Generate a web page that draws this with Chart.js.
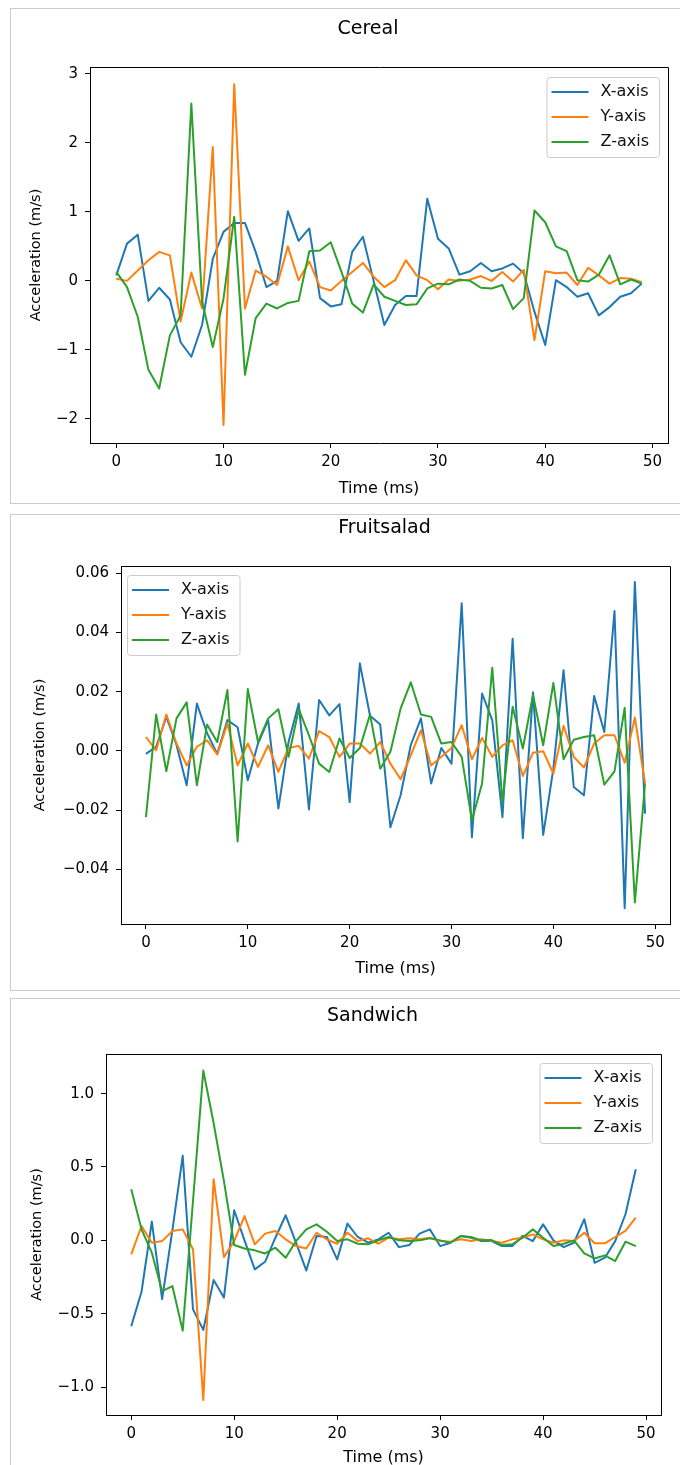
<!DOCTYPE html>
<html><head><meta charset="utf-8">
<script src="https://cdn.jsdelivr.net/npm/chart.js@4.4.0/dist/chart.umd.min.js"></script>
<style>
html,body{margin:0;padding:0;background:#fff;width:680px;height:1465px;overflow:hidden;position:relative}
.panel{position:absolute;left:10px;width:700px;border:1.5px solid #cbcbcb;box-sizing:border-box;background:#fff}
canvas{position:absolute;left:0}
</style></head><body>
<div class="panel" style="top:8px;height:496px"></div>
<div class="panel" style="top:514px;height:477px"></div>
<div class="panel" style="top:998px;height:520px"></div>
<canvas id="c1" width="680" height="492" style="top:10px;width:680px;height:492px"></canvas>
<canvas id="c2" width="680" height="473" style="top:516px;width:680px;height:473px"></canvas>
<canvas id="c3" width="680" height="480" style="top:999px;width:680px;height:480px"></canvas>
<script>
const time = [0,1,2,3,4,5,6,7,8,9,10,11,12,13,14,15,16,17,18,19,20,21,22,23,24,25,26,27,28,29,30,31,32,33,34,35,36,37,38,39,40,41,42,43,44,45,46,47,48,49];

const cerealX = [0.08,0.54,0.67,-0.29,-0.10,-0.27,-0.89,-1.10,-0.64,0.32, 0.71,0.84,0.84,0.42,-0.09,0.00,1.01,0.58,0.76,-0.25, -0.37,-0.34,0.42,0.64,0.00,-0.64,-0.35,-0.22,-0.22,1.19, 0.61,0.47,0.09,0.14,0.26,0.14,0.18,0.25,0.11,-0.45, -0.93,0.01,-0.09,-0.23,-0.18,-0.50,-0.38,-0.23,-0.18,-0.04];
const cerealY = [0.03,0.00,0.15,0.30,0.42,0.37,-0.59,0.12,-0.40,1.94, -2.09,2.85,-0.40,0.15,0.06,-0.06,0.50,0.01,0.28,-0.09, -0.14,0.00,0.13,0.26,0.06,-0.09,0.01,0.30,0.08,0.01, -0.12,0.02,0.00,0.02,0.07,0.00,0.13,-0.01,0.16,-0.86, 0.14,0.11,0.12,-0.06,0.19,0.08,-0.04,0.04,0.03,-0.02];
const cerealZ = [0.13,-0.09,-0.52,-1.29,-1.56,-0.79,-0.50,2.57,-0.30,-0.96, -0.26,0.93,-1.36,-0.54,-0.33,-0.40,-0.32,-0.29,0.43,0.44, 0.56,0.13,-0.33,-0.46,-0.05,-0.23,-0.29,-0.35,-0.34,-0.11, -0.04,-0.05,0.02,0.00,-0.10,-0.11,-0.06,-0.41,-0.25,1.02, 0.85,0.50,0.43,0.01,-0.01,0.09,0.37,-0.05,0.02,-0.04];

const fruitX = [-0.001,0.0014,0.0115,0.002,-0.0116,0.016,0.006,-0.001,0.0104,0.008, -0.0099,0.0025,0.0104,-0.0195,0.003,0.016,-0.0198,0.0172,0.012,0.0158, -0.0173,0.0296,0.0119,0.0089,-0.0258,-0.015,0.002,0.011,-0.011,0.001, -0.0043,0.0499,-0.0292,0.0194,0.0104,-0.0224,0.0379,-0.0295,0.0198,-0.0284, -0.006,0.0273,-0.0122,-0.015,0.0186,0.0064,0.0473,-0.0532,0.0571,-0.0212];
const fruitY = [0.0047,0.0002,0.0123,0.0025,-0.0049,0.0014,0.0036,-0.0012,0.0093,-0.0049, 0.0025,-0.0054,0.0019,-0.0071,0.001,0.0017,-0.0026,0.0067,0.0047,-0.002, 0.0025,0.0025,-0.0009,0.003,-0.0043,-0.0096,-0.0015,0.007,-0.0049,-0.002, 0.001,0.0087,-0.0028,0.0044,-0.002,0.0019,0.0036,-0.0085,-0.0006,-0.0001, -0.0077,0.0085,-0.002,-0.0056,0.0025,0.0053,0.0053,-0.004,0.0113,-0.011];
const fruitZ = [-0.0224,0.0123,-0.0069,0.011,0.0164,-0.0116,0.0089,0.003,0.0206,-0.0306, 0.0209,0.003,0.011,0.0141,-0.002,0.0141,0.0053,-0.0043,-0.0071,0.0042, -0.0024,0.001,0.0123,-0.006,-0.0003,0.0143,0.0232,0.0123,0.0115,0.0025, 0.003,-0.002,-0.0235,-0.011,0.0281,-0.0173,0.0149,0.0008,0.0189,0.0019, 0.023,-0.0028,0.0038,0.0047,0.0053,-0.0114,-0.0069,0.0146,-0.0512,-0.011];

const sandX = [-0.585,-0.35,0.128,-0.40,0.07,0.576,-0.47,-0.61,-0.27,-0.39, 0.205,0.0,-0.198,-0.146,0.018,0.171,-0.016,-0.205,0.03,0.023, -0.13,0.114,0.023,-0.016,0.007,0.052,-0.046,-0.032,0.046,0.075, -0.039,-0.016,0.03,0.018,-0.005,-0.005,-0.039,-0.039,0.03,-0.005, 0.109,0.0,-0.046,-0.016,0.144,-0.153,-0.118,-0.005,0.178,0.485];
const sandY = [-0.096,0.098,-0.016,-0.005,0.064,0.075,-0.06,-1.087,0.417,-0.114, -0.005,0.166,-0.027,0.046,0.064,0.007,-0.039,-0.055,0.052,0.007, -0.023,0.052,-0.005,0.014,-0.023,0.018,0.007,0.014,0.007,0.018, -0.005,-0.009,0.007,-0.005,0.007,-0.005,-0.016,0.007,0.018,0.041, 0.007,-0.016,0.0,-0.005,0.052,-0.02,-0.02,0.023,0.064,0.155];
const sandZ = [0.349,0.075,-0.084,-0.346,-0.312,-0.615,0.27,1.157,0.80,0.405, -0.032,-0.055,-0.068,-0.089,-0.05,-0.118,-0.005,0.075,0.109,0.059, -0.005,0.007,-0.023,-0.027,0.0,0.023,0.0,-0.005,0.0,0.014, 0.0,-0.016,0.03,0.023,0.0,0.002,-0.032,-0.027,0.018,0.075, 0.018,-0.039,-0.023,0.0,-0.089,-0.123,-0.102,-0.141,-0.009,-0.039];

const xTicks = [0,10,20,30,40,50];
const xTickLabels = ['0','10','20','30','40','50'];
const cerealYTicks = [-2,-1,0,1,2,3];
const cerealYTickLabels = ['\u22122','\u22121','0','1','2','3'];
const fruitYTicks = [-0.04,-0.02,0,0.02,0.04,0.06];
const fruitYTickLabels = ['\u22120.04','\u22120.02','0.00','0.02','0.04','0.06'];
const sandYTicks = [-1.0,-0.5,0,0.5,1.0];
const sandYTickLabels = ['\u22121.0','\u22120.5','0.0','0.5','1.0'];

const seriesLabels = ['X-axis','Y-axis','Z-axis'];
const seriesColors = ['#1f77b4','#ff7f0e','#2ca02c'];

const FONT = '"DejaVu Sans", sans-serif';
Chart.defaults.font.family = FONT;
Chart.defaults.color = '#000';

function alignPx(p){ return Math.round(p - 0.5) + 0.5; }

const decor = {
  id: 'decor',
  afterDatasetsDraw(chart, args, o) {
    const ctx = chart.ctx, a = chart.chartArea;
    ctx.save();
    // top & right spines
    ctx.strokeStyle = '#000'; ctx.lineWidth = 1;
    const L = alignPx(a.left), T = alignPx(a.top), R = alignPx(a.right), B = alignPx(a.bottom);
    ctx.beginPath();
    ctx.moveTo(L, T); ctx.lineTo(R, T); ctx.lineTo(R, B);
    ctx.stroke();
    // title
    ctx.fillStyle = '#000';
    ctx.font = '19px ' + FONT;
    ctx.textAlign = 'center'; ctx.textBaseline = 'middle';
    ctx.fillText(o.title, (a.left + a.right) / 2 - 11, a.top - 38);
    // legend
    ctx.font = '16px ' + FONT;
    const ds = chart.data.datasets;
    const tw = Math.max(...ds.map(d => ctx.measureText(d.label).width));
    const textStart = 54, w = textStart + tw + 10, h = 80;
    const x = o.corner === 'right' ? a.right - o.dx - w : a.left + o.dx;
    const y = a.top + o.dy;
    ctx.beginPath();
    ctx.roundRect(x + 0.5, y + 0.5, w, h, 3);
    ctx.fillStyle = 'rgba(255,255,255,0.8)';
    ctx.fill();
    ctx.strokeStyle = '#cccccc'; ctx.lineWidth = 1;
    ctx.stroke();
    ctx.textAlign = 'left';
    ds.forEach((d, i) => {
      const cy = y + 15 + i * 25;
      ctx.strokeStyle = d.borderColor; ctx.lineWidth = 2;
      ctx.beginPath(); ctx.moveTo(x + 5, cy); ctx.lineTo(x + 42, cy); ctx.stroke();
      ctx.fillStyle = '#111';
      ctx.fillText(d.label, x + textStart, cy);
    });
    ctx.restore();
  }
};

function makeChart(id, title, series, yMin, yMax, yTicks, yTickLabels, lay) {
  const datasets = series.map((vals, k) => ({
    label: seriesLabels[k],
    data: time.map((t, i) => ({x: t, y: vals[i]})),
    borderColor: seriesColors[k],
    backgroundColor: seriesColors[k],
    borderWidth: 2,
    pointRadius: 0,
    pointHoverRadius: 0,
    tension: 0,
    fill: false,
    borderJoinStyle: 'round',
    order: 2 - k
  }));
  const gridOpts = {drawOnChartArea: false, drawTicks: true, tickLength: 5, color: '#000', tickColor: '#000', tickWidth: 1};
  return new Chart(document.getElementById(id), {
    type: 'line',
    data: {datasets},
    plugins: [decor],
    options: {
      responsive: false,
      animation: false,
      events: [],
      layout: {padding: {top: lay.padTop, right: lay.padRight, left: 0, bottom: 0}},
      plugins: {
        legend: {display: false},
        tooltip: {enabled: false},
        title: {display: false},
        decor: {title, corner: lay.corner, dx: lay.dx, dy: lay.dy}
      },
      scales: {
        x: {
          type: 'linear', min: -2.45, max: 51.45, bounds: 'data',
          afterBuildTicks: s => { s.ticks = xTicks.map(v => ({value: v})); },
          afterFit: s => { s.height = lay.xAxisH; },
          ticks: {autoSkip: false, maxRotation: 0, padding: 5, color: '#000',
                  font: {size: 15}, callback: (v, i) => xTickLabels[i]},
          grid: gridOpts,
          border: {display: true, color: '#000', width: 1},
          title: {display: true, text: 'Time (ms)', color: '#000', font: {size: 16},
                  padding: {top: 0, bottom: lay.xTitlePad}}
        },
        y: {
          type: 'linear', min: yMin, max: yMax, bounds: 'data',
          afterBuildTicks: s => { s.ticks = yTicks.map(v => ({value: v})); },
          afterFit: s => { s.width = lay.yAxisW; },
          ticks: {autoSkip: false, padding: 7, color: '#000',
                  font: {size: 15}, callback: (v, i) => yTickLabels[i]},
          grid: gridOpts,
          border: {display: true, color: '#000', width: 1},
          title: {display: true, text: 'Acceleration (m/s)', color: '#000', font: {size: 14.5},
                  padding: {top: lay.yTitlePad, bottom: 0}}
        }
      }
    }
  });
}

makeChart('c1', 'Cereal', [cerealX, cerealY, cerealZ], -2.35, 3.1, cerealYTicks, cerealYTickLabels,
  {padTop: 57, padRight: 12, yAxisW: 90, xAxisH: 59, yTitlePad: 28, xTitlePad: 3.4, corner: 'right', dx: 9, dy: 10});
makeChart('c2', 'Fruitsalad', [fruitX, fruitY, fruitZ], -0.0585, 0.0625, fruitYTicks, fruitYTickLabels,
  {padTop: 50, padRight: 10, yAxisW: 121, xAxisH: 65, yTitlePad: 31.3, xTitlePad: 10.4, corner: 'left', dx: 6, dy: 9});
makeChart('c3', 'Sandwich', [sandX, sandY, sandZ], -1.19, 1.27, sandYTicks, sandYTickLabels,
  {padTop: 55, padRight: 19, yAxisW: 106, xAxisH: 64, yTitlePad: 28.3, xTitlePad: 11.4, corner: 'right', dx: 9, dy: 9});
</script>
</body></html>
